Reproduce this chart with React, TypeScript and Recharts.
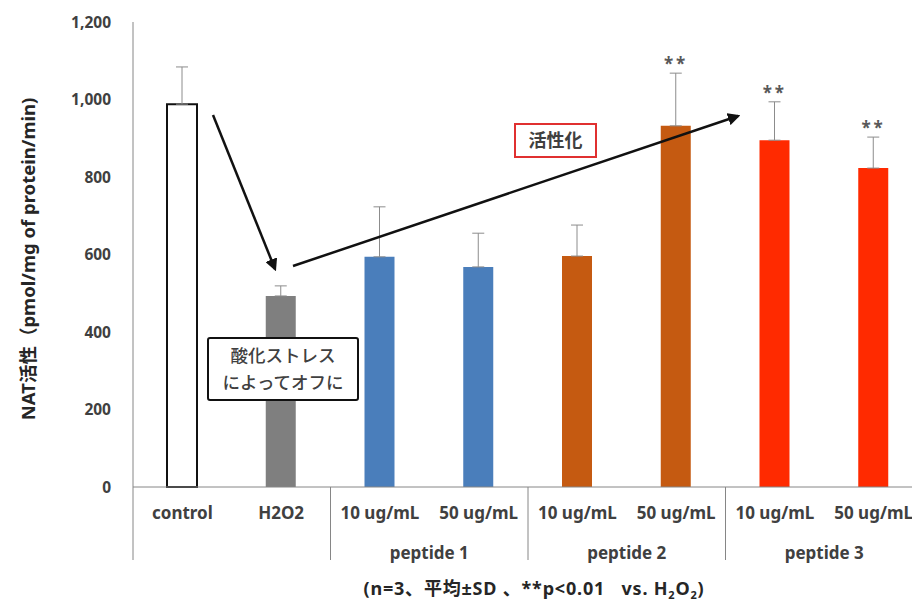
import React from 'react';
import {
    ComposedChart, Bar, Line, XAxis, YAxis, Cell, ErrorBar, LabelList,
} from 'recharts';

const categories = ['control', 'H2O2', '10 ug/mL', '50 ug/mL', '10 ug/mL', '50 ug/mL', '10 ug/mL', '50 ug/mL'];
const groups = ['', '', 'peptide 1', 'peptide 1', 'peptide 2', 'peptide 2', 'peptide 3', 'peptide 3'];
const means = [988, 493, 594, 568, 596, 932, 895, 823];
const sds = [96, 26, 129, 87, 80, 136, 99, 80];
const sig = ['', '', '', '', '', '**', '**', '**'];
const colors = ['#ffffff', '#7f7f7f', '#4a7ebb', '#4a7ebb', '#c55a11', '#c55a11', '#ff2a00', '#ff2a00'];
const yTicks = [0, 200, 400, 600, 800, 1000, 1200];

const FONT = '"Noto Sans", "Noto Sans CJK JP", sans-serif';
const TEXT = '#404040';
const AXIS = '#868686';

const CHART_W = 923;
const CHART_H = 603;
const Y_W = 133;
const X_H = 116;
const BAND = (CHART_W - Y_W) / categories.length;

const data = categories.map((c, i) => ({
    key: `${groups[i]}-${c}-${i}`,
    mean: means[i],
    err: [0, sds[i]],
    errTop: means[i] + sds[i],
    sig: sig[i],
}));

// eslint-disable-next-line @typescript-eslint/no-explicit-any
function XTick({ x, y, index }: any) {
    const left = x - BAND / 2;
    const startsGroup = index % 2 === 0;
    return (
        <g>
            <text x={x} y={y + 32} textAnchor="middle" fontSize={17} fontWeight={700} fill={TEXT} fontFamily={FONT}>
                {categories[index]}
            </text>
            {startsGroup && (
                <line x1={left} x2={left} y1={y} y2={y + 73} stroke={AXIS} strokeWidth={1} />
            )}
            {startsGroup && groups[index] && (
                <text x={x + BAND / 2} y={y + 72} textAnchor="middle" fontSize={17} fontWeight={700} fill={TEXT} fontFamily={FONT}>
                    {groups[index]}
                </text>
            )}
        </g>
    );
}

function Overlay() {
    return (
        <svg width={912} height={603} style={{ position: 'absolute', left: 0, top: 0, pointerEvents: 'none' }}>
            <defs>
                <marker id="head" viewBox="0 0 10 10" refX="8" refY="5" markerWidth="5" markerHeight="5" orient="auto">
                    <path d="M0,0 L10,5 L0,10 z" fill="#111" />
                </marker>
            </defs>
            {/* y axis title */}
            <text
                transform="translate(35,259) rotate(-90)"
                textAnchor="middle"
                fontSize={18.5}
                fontWeight={700}
                fill="#262626"
                fontFamily={FONT}
            >
                NAT活性（pmol/mg of protein/min)
            </text>

            {/* annotation arrows */}
            <line x1={213} y1={115} x2={275} y2={269} stroke="#111" strokeWidth={2.5} markerEnd="url(#head)" />
            <line x1={293} y1={266} x2={738} y2={116} stroke="#111" strokeWidth={2.5} markerEnd="url(#head)" />

            {/* oxidative stress box */}
            <rect x={208} y={338} width={150} height={62} rx={2} fill="#fff" stroke="#111" strokeWidth={2} />
            <text x={283} y={362} textAnchor="middle" fontSize={17.5} fontWeight={500} fill={TEXT} fontFamily={FONT}>酸化ストレス</text>
            <text x={283} y={389} textAnchor="middle" fontSize={17.5} fontWeight={500} fill={TEXT} fontFamily={FONT}>によってオフに</text>

            {/* activation box */}
            <rect x={515} y={124} width={81} height={33} fill="#fff" stroke="#e03030" strokeWidth={2} />
            <text x={555.5} y={147} textAnchor="middle" fontSize={18} fontWeight={700} fill={TEXT} fontFamily={FONT}>活性化</text>

            {/* footnote */}
            <text x={534} y={595} textAnchor="middle" fontSize={18} fontWeight={700} fill="#262626" fontFamily={FONT} letterSpacing={0.8}>
                (n=3、平均±SD 、**p&lt;0.01{'\u00a0\u00a0\u00a0'}vs. H<tspan fontSize={11} dy={4}>2</tspan><tspan dy={-4}>O</tspan><tspan fontSize={11} dy={4}>2</tspan><tspan dy={-4}>)</tspan>
            </text>
        </svg>
    );
}

export default function App() {
    return (
        <div style={{ position: 'absolute', left: 0, top: 0, width: 912, height: 603, overflow: 'hidden', background: '#fff' }}>
            <ComposedChart width={CHART_W} height={CHART_H} data={data} margin={{ top: 22, right: 0, left: 0, bottom: 0 }}>
                <XAxis
                    dataKey="key"
                    height={X_H}
                    interval={0}
                    tickLine={false}
                    tickSize={0}
                    tickMargin={0}
                    axisLine={{ stroke: AXIS, strokeWidth: 1 }}
                    tick={<XTick />}
                />
                <YAxis
                    width={Y_W}
                    domain={[0, 1200]}
                    ticks={yTicks}
                    interval={0}
                    tickLine={false}
                    tickSize={0}
                    tickMargin={22}
                    axisLine={{ stroke: AXIS, strokeWidth: 1 }}
                    tickFormatter={(v: number) => v.toLocaleString('en-US')}
                    tick={{ fontSize: 15.5, fontWeight: 700, fill: TEXT, fontFamily: FONT }}
                />
                <Bar dataKey="mean" barSize={30} isAnimationActive={false}>
                    {data.map((d, i) => (
                        <Cell
                            key={`cell-${d.key}`}
                            fill={colors[i]}
                            stroke={i === 0 ? '#111' : 'none'}
                            strokeWidth={i === 0 ? 2 : 0}
                        />
                    ))}
                    <ErrorBar dataKey="err" direction="y" width={6} stroke="#8c8c8c" strokeWidth={1} />
                </Bar>
                <Line dataKey="errTop" stroke="none" dot={false} activeDot={false} isAnimationActive={false} legendType="none">
                    <LabelList
                        dataKey="sig"
                        position="top"
                        offset={3}
                        style={{ fontSize: 17, fontWeight: 700, fill: '#595959', fontFamily: FONT, letterSpacing: 3 }}
                    />
                </Line>
            </ComposedChart>
            <Overlay />
        </div>
    );
}
